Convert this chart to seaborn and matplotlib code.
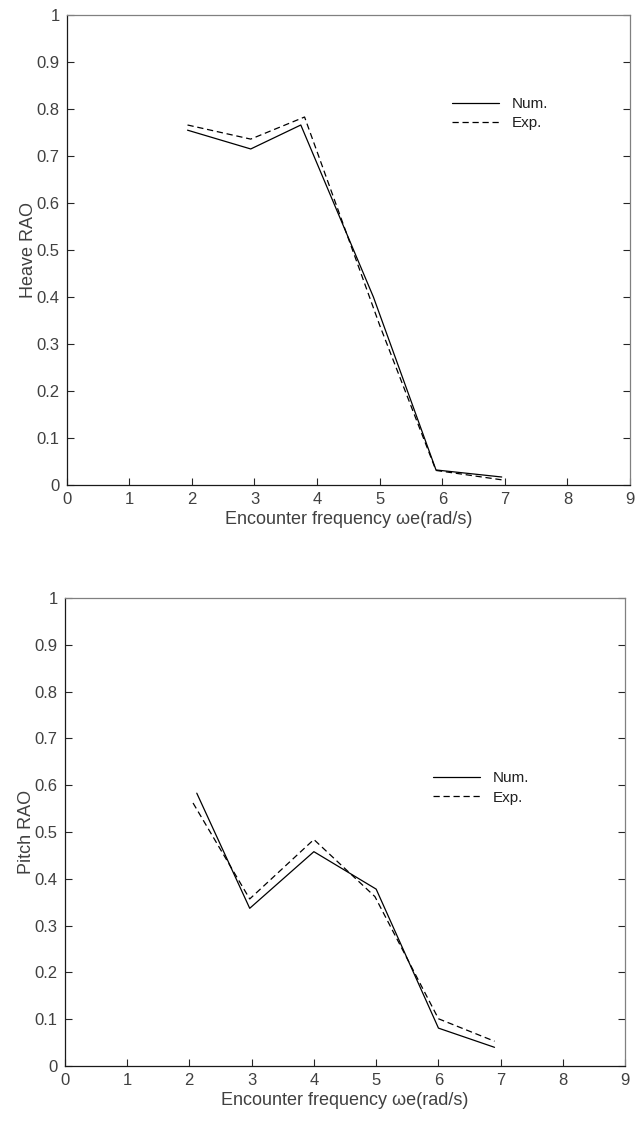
import matplotlib
matplotlib.use("Agg")
import matplotlib.pyplot as plt
import seaborn as sns
import pandas as pd

# Heave RAO data
heave_num_x = [1.93, 2.94, 3.74, 4.9, 5.9, 6.95]
heave_num_y = [0.755, 0.715, 0.766, 0.40, 0.032, 0.017]
heave_exp_x = [1.93, 2.94, 3.80, 5.0, 5.9, 6.95]
heave_exp_y = [0.766, 0.736, 0.783, 0.34, 0.031, 0.011]

# Pitch RAO data
pitch_num_x = [2.12, 2.97, 4.0, 5.0, 6.0, 6.9]
pitch_num_y = [0.583, 0.337, 0.458, 0.378, 0.081, 0.040]
pitch_exp_x = [2.06, 2.97, 4.0, 4.98, 6.0, 6.9]
pitch_exp_y = [0.562, 0.357, 0.484, 0.362, 0.101, 0.053]

series_names = ["Num.", "Exp."]
xticks = list(range(0, 10))
yticks = [0, 0.1, 0.2, 0.3, 0.4, 0.5, 0.6, 0.7, 0.8, 0.9, 1]
ytick_labels = ["0", "0.1", "0.2", "0.3", "0.4", "0.5", "0.6", "0.7", "0.8", "0.9", "1"]
xlabel = "Encounter frequency ωe(rad/s)"

sns.set_style("white")
plt.rcParams['font.family'] = ['Liberation Sans', 'DejaVu Sans']

fig = plt.figure(figsize=(6.44, 11.3), dpi=100)
ax1 = fig.add_axes([0.1036, 0.5708, 0.8747, 0.4159])
ax2 = fig.add_axes([0.1005, 0.0566, 0.8705, 0.4142])

def make_df(nx, ny, ex, ey):
    return pd.concat([
        pd.DataFrame({"x": nx, "y": ny, "s": series_names[0]}),
        pd.DataFrame({"x": ex, "y": ey, "s": series_names[1]}),
    ], ignore_index=True)

panels = [
    (ax1, make_df(heave_num_x, heave_num_y, heave_exp_x, heave_exp_y), "Heave RAO", (0.684, 0.79)),
    (ax2, make_df(pitch_num_x, pitch_num_y, pitch_exp_x, pitch_exp_y), "Pitch RAO", (0.657, 0.594)),
]

for ax, df, ylab, legpos in panels:
    sns.lineplot(data=df, x="x", y="y", hue="s", style="s",
                 palette={"Num.": "black", "Exp.": "black"},
                 dashes={"Num.": "", "Exp.": (5, 3)},
                 sort=False, estimator=None, lw=0.9, ax=ax)
    ax.set_xlim(0, 9)
    ax.set_ylim(0, 1)
    ax.set_xticks(xticks)
    ax.set_yticks(yticks)
    ax.set_yticklabels(ytick_labels)
    ax.tick_params(direction="in", length=5, width=0.8, colors="#262626",
                   labelcolor="#404040", labelsize=12, top=False, right=True,
                   bottom=True, left=True, pad=5)
    for side in ["left", "bottom"]:
        ax.spines[side].set_color("#1a1a1a")
        ax.spines[side].set_linewidth(0.9)
    for side in ["top", "right"]:
        ax.spines[side].set_color("#808080")
        ax.spines[side].set_linewidth(0.9)
    ax.set_xlabel(xlabel, fontsize=13, color="#404040", labelpad=3)
    ax.set_ylabel(ylab, fontsize=13, color="#404040", labelpad=0)
    leg = ax.legend(loc="center left", bbox_to_anchor=legpos, frameon=False,
                    handlelength=3.1, handletextpad=0.8, fontsize=11,
                    labelspacing=0.35, borderpad=0, borderaxespad=0)
    for t in leg.get_texts():
        t.set_color("#202020")

fig.savefig("out.png", dpi=100)
